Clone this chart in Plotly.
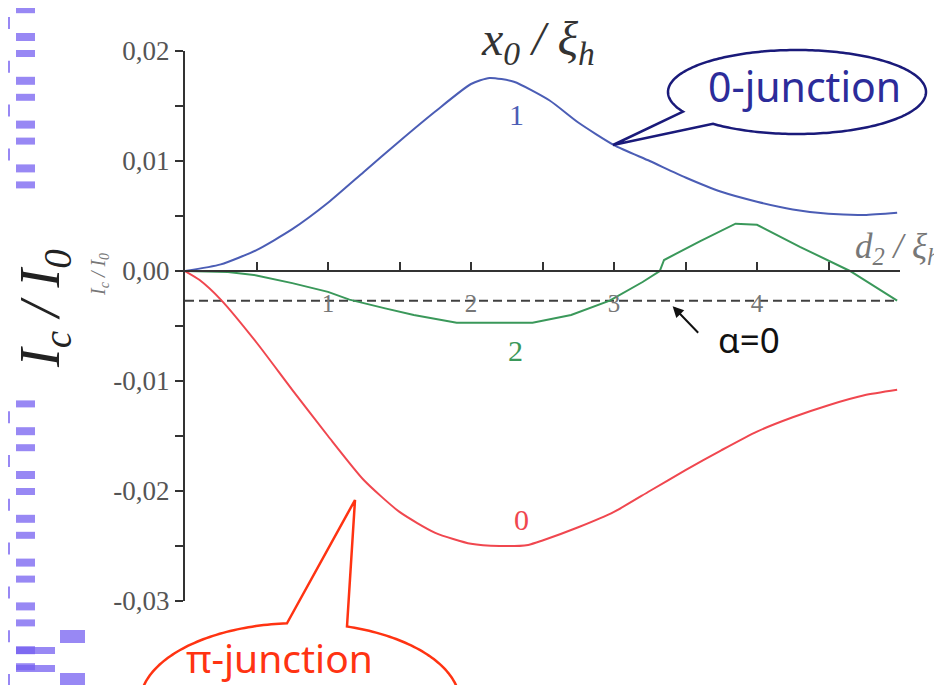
import numpy as np
import plotly.graph_objects as go

# ---------------- data ----------------
x_blue = [0, 0.25, 0.5, 0.75, 1.0, 1.25, 1.5, 1.75, 2.0, 2.13, 2.3, 2.55, 2.75, 3.0, 3.25, 3.5, 3.75, 4.0, 4.25, 4.5, 4.75, 4.98]
y_blue = [0, 0.0006, 0.0019, 0.0038, 0.0062, 0.0090, 0.0118, 0.0145, 0.0170, 0.01755, 0.0172, 0.0155, 0.0135, 0.01145, 0.0100, 0.0085, 0.0072, 0.0063, 0.0056, 0.0052, 0.0051, 0.0053]

x_red = [0, 0.1, 0.25, 0.5, 0.75, 1.0, 1.25, 1.5, 1.75, 2.0, 2.2, 2.4, 2.5, 2.75, 3.0, 3.25, 3.5, 3.75, 4.0, 4.25, 4.5, 4.75, 4.98]
y_red = [0, -0.0008, -0.0026, -0.0065, -0.0108, -0.0150, -0.0190, -0.0219, -0.0238, -0.0248, -0.0250, -0.0249, -0.0245, -0.0233, -0.0219, -0.0200, -0.0181, -0.0163, -0.0146, -0.0133, -0.0122, -0.0113, -0.0108]

x_green = [0, 0.3, 0.5, 0.75, 1.0, 1.15, 1.4, 1.6, 1.9, 2.43, 2.7, 2.97, 3.2, 3.32, 3.35, 3.6, 3.85, 4.0, 4.3, 4.65, 4.98]
y_green = [0, -0.0001, -0.0004, -0.0011, -0.0019, -0.0026, -0.0034, -0.0040, -0.0047, -0.0047, -0.0040, -0.0027, -0.0010, 0.0, 0.0010, 0.0027, 0.0043, 0.0042, 0.0022, 0.0, -0.0027]

x_alpha0 = [0, 4.98]
y_alpha0 = [-0.0027, -0.0027]

x_tickvals = [1, 2, 3, 4]
x_ticktext = ["1", "2", "3", "4"]
y_tickvals = [0.02, 0.01, 0.0, -0.01, -0.02, -0.03]
y_ticktext = ["0,02", "0,01", "0,00", "-0,01", "-0,02", "-0,03"]

curve_labels = [("1", 2.32, 0.0142), ("2", 2.31, -0.0072), ("0", 2.35, -0.0226)]

# ---------------- geometry helpers (reference pixel -> paper) ----------------
OFF = 8                      # page body margin
WREF, HREF = 942, 685
L, R, T, B = 185, 900, 51, 601   # plot area in window pixels


def px(xp):
    return (xp - L) / (R - L)


def py(yp):
    return (B - yp) / (B - T)


BLUE = "#4b5db5"
GREEN = "#3a985a"
RED = "#f0474f"

fig = go.Figure()
fig.add_trace(go.Scatter(x=x_alpha0, y=y_alpha0, mode="lines",
                         line=dict(color="#404040", width=2, dash="9px,5px"), hoverinfo="skip"))
fig.add_trace(go.Scatter(x=x_blue, y=y_blue, mode="lines", line=dict(color=BLUE, width=2, shape="spline", smoothing=0.6)))
fig.add_trace(go.Scatter(x=x_green, y=y_green, mode="lines", line=dict(color=GREEN, width=2)))
fig.add_trace(go.Scatter(x=x_red, y=y_red, mode="lines", line=dict(color=RED, width=2, shape="spline", smoothing=0.6)))

shapes = []
annotations = []


def callout(cx, cy, rx, ry, bx1, bx2, tip, upper, color):
    def ang(bx):
        u = (bx - cx) / rx
        v = np.sqrt(max(0.0, 1 - u * u))
        if upper:
            v = -v
        return np.arctan2(v, u)
    a1, a2 = ang(bx1), ang(bx2)
    d = (a1 - a2) % (2 * np.pi)
    if d < np.pi:
        ts = np.linspace(a2, a2 - (2 * np.pi - d), 240)
    else:
        ts = np.linspace(a2, a2 + d, 240)
    p1 = (cx + rx * np.cos(a1), cy + ry * np.sin(a1))
    p2 = (cx + rx * np.cos(a2), cy + ry * np.sin(a2))
    path = f"M {px(p1[0]):.5f},{py(p1[1]):.5f} L {px(tip[0]):.5f},{py(tip[1]):.5f} L {px(p2[0]):.5f},{py(p2[1]):.5f}"
    for t in ts:
        path += f" L {px(cx + rx*np.cos(t)):.5f},{py(cy + ry*np.sin(t)):.5f}"
    path += " Z"
    return dict(type="path", xref="paper", yref="paper", path=path,
                line=dict(color=color, width=2.5), fillcolor="white", layer="above")


shapes.append(callout(797, 92, 129, 42, 683, 713, (613, 145), False, "#1a1a7a"))
shapes.append(callout(300, 703, 160, 80, 287, 347, (355, 500), True, "#ff3312"))

# ---- decorative stripes on the left ----
STRIPE = "rgba(118,96,240,0.75)"


def rect(x0, y0, x1, y1):
    shapes.append(dict(type="rect", xref="paper", yref="paper",
                       x0=px(x0), x1=px(x1), y0=py(y1), y1=py(y0),
                       line=dict(width=0), fillcolor=STRIPE, layer="below"))


for k in range(-1, 17):
    base = 43.8 * k
    for (y0, h, xa, xb) in [(17 + base, 12, 0, 10), (33 + base, 8, 16, 35), (50 + base, 7, 16, 35)]:
        y1 = y0 + h
        if (y0 >= 0 and y1 <= 200) or (y0 >= 395 and y0 < 685):
            rect(xa, y0, xb, min(y1, 685))
rect(16, 647, 55, 654)
rect(16, 665, 55, 672)
rect(60, 630, 85, 643)
rect(60, 673, 85, 685)

# ---- texts ----
serif = "Liberation Serif"


def text(xr, yr, s, size, color, family=serif, angle=0, xanchor="center"):
    annotations.append(dict(xref="paper", yref="paper", x=px(xr), y=py(yr), showarrow=False,
                            xanchor=xanchor, yanchor="middle", textangle=angle,
                            text=s, font=dict(family=family, size=size, color=color)))


text(538, 42, "<i>x<sub>0</sub> / ξ<sub>h</sub></i>", 48, "#333")
text(853, 248, "<i>d<sub>2</sub> / ξ<sub>h</sub></i>", 35, "#777", xanchor="left")
text(44, 309, "<i>I<sub>c</sub> / I<sub>0</sub></i>", 56, "#222", angle=-90)
text(99, 275, "<i>I<sub>c</sub> / I<sub>0</sub></i>", 20, "#777", angle=-90)
text(804, 86, "0-junction", 41, "#2c2c9a", family="Noto Sans")
text(279, 657, "π-junction", 39, "#ff3312", family="Noto Sans")
text(749, 339, "α=0", 35, "#111", family="Noto Sans")

for (txt, xv, yv), col in zip(curve_labels, [BLUE, GREEN, RED]):
    annotations.append(dict(x=xv, y=yv, xref="x", yref="y", text=txt, showarrow=False,
                            xanchor="center", yanchor="middle",
                            font=dict(family=serif, size=30, color=col)))

# arrow pointing at the dashed line
annotations.append(dict(x=3.41, y=-0.0032, xref="x", yref="y", text="", showarrow=True,
                        ax=27, ay=28, arrowhead=2, arrowsize=1.1, arrowwidth=2, arrowcolor="#111"))

fig.update_layout(
    width=WREF - OFF, height=HREF - OFF,
    margin=dict(l=L - OFF, r=WREF - R, t=T - OFF, b=HREF - B),
    paper_bgcolor="white", plot_bgcolor="white",
    showlegend=False,
    shapes=shapes, annotations=annotations,
    xaxis=dict(range=[0, 5], anchor="free", position=0.6, showline=True, linecolor="#333", linewidth=2,
               showgrid=False, zeroline=False,
               tickvals=x_tickvals, ticktext=x_ticktext, ticks="inside", ticklen=8, tickwidth=2, tickcolor="#333",
               minor=dict(dtick=0.5, tick0=0, ticks="inside", ticklen=8, tickwidth=2, tickcolor="#333"),
               ticklabelstandoff=10,
               tickfont=dict(family=serif, size=25, color="#777")),
    yaxis=dict(range=[-0.03, 0.02], showline=True, linecolor="#333", linewidth=2,
               showgrid=False, zeroline=False,
               tickvals=y_tickvals, ticktext=y_ticktext, ticks="outside", ticklen=8, tickwidth=2, tickcolor="#333",
               minor=dict(dtick=0.005, tick0=0, ticks="outside", ticklen=8, tickwidth=2, tickcolor="#333"),
               tickfont=dict(family=serif, size=27, color="#555")),
)

fig.write_html("out.html")
